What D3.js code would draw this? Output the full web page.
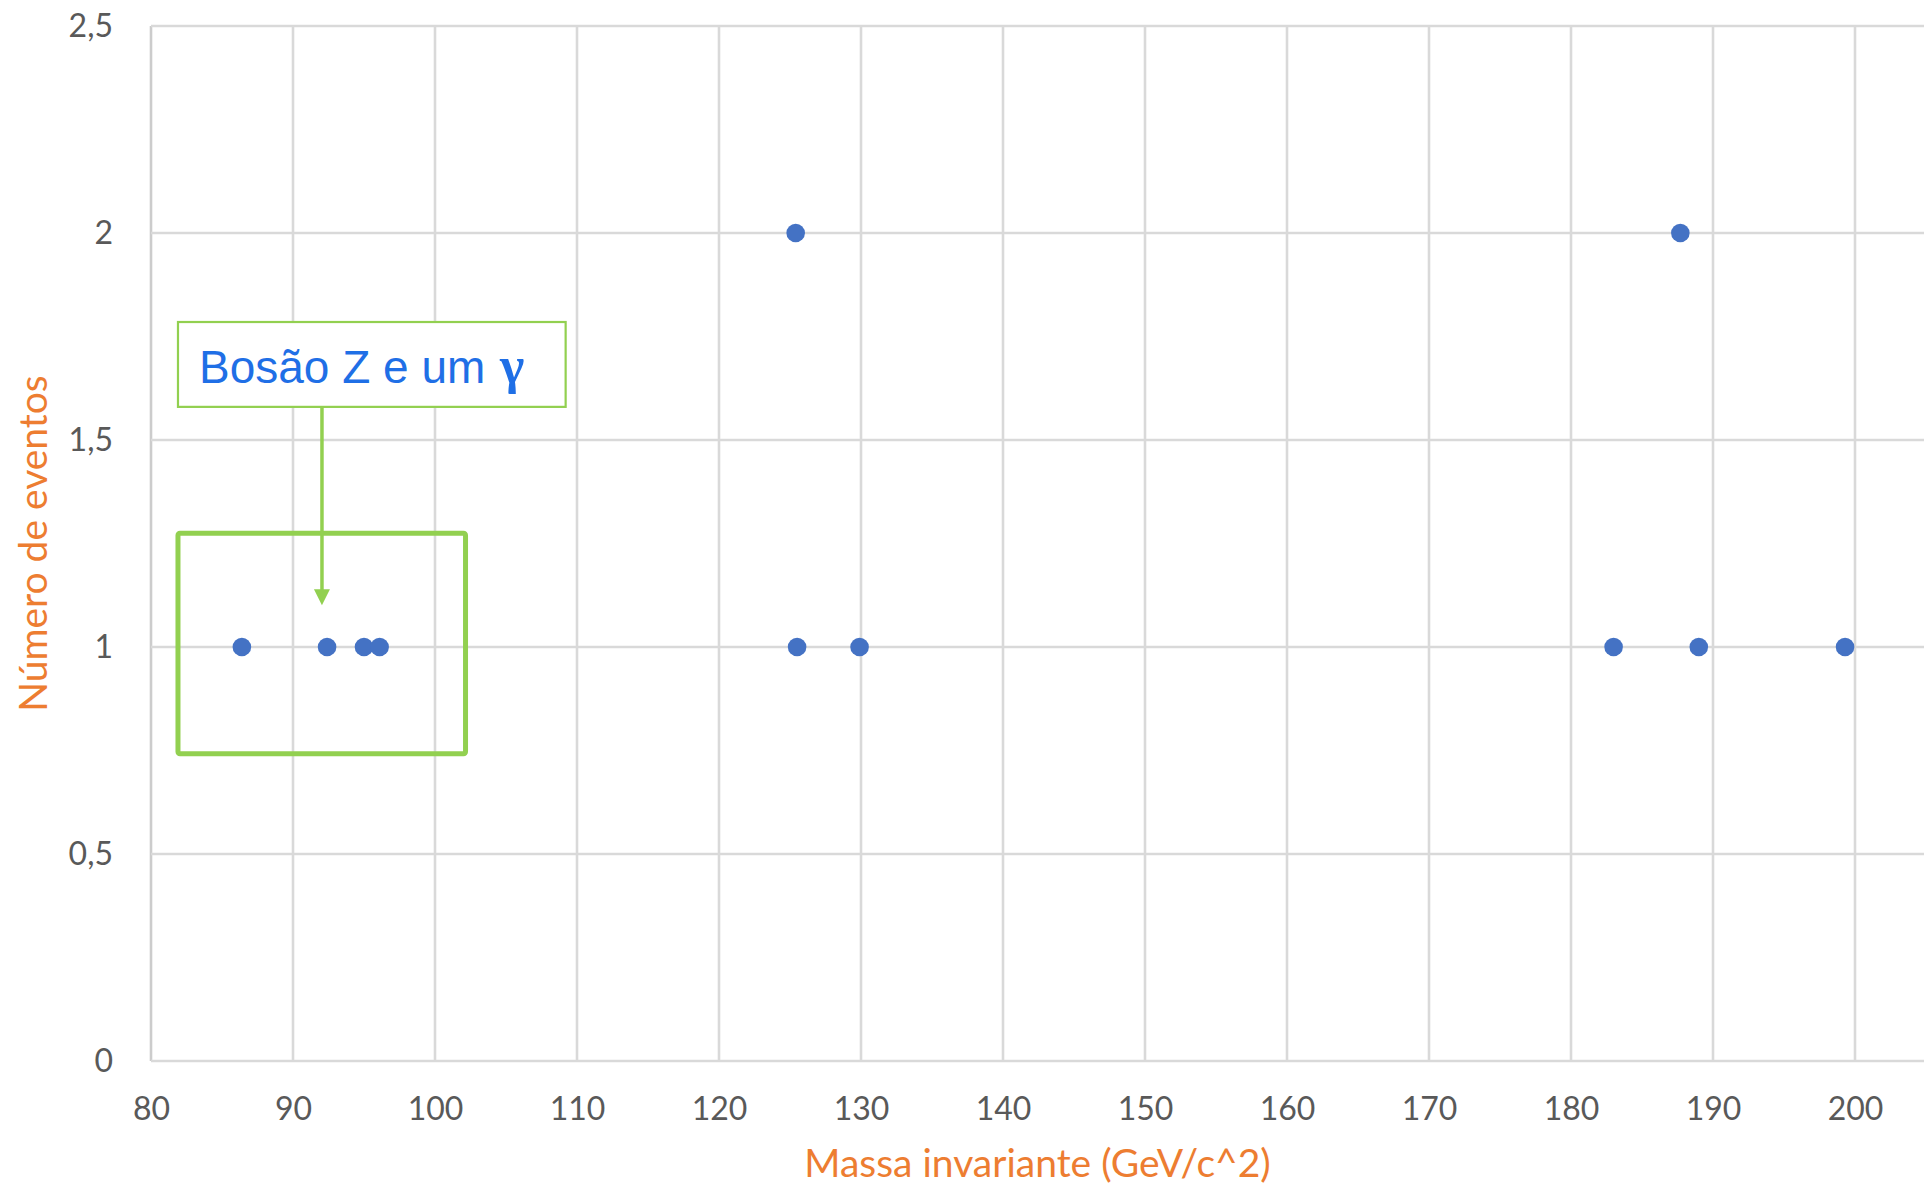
<!DOCTYPE html>
<html>
<head>
<meta charset="utf-8">
<script src="https://cdn.jsdelivr.net/npm/d3@7"></script>
<style>
	body { margin: 0; background: #fff; }
	.tick text { font-family: Lato, "Open Sans", sans-serif; font-size: 32px; fill: #595959; }
	.axis-title { font-family: Lato, "Open Sans", sans-serif; font-size: 39px; fill: #ed7d31; }
</style>
</head>
<body>
<svg id="chart" width="1924" height="1188"></svg>
<script>
"use strict";

// invariant mass (GeV/c^2) and number of events
var masses = [86.4, 92.4, 95.0, 96.1, 125.4, 125.5, 129.9, 183.0, 187.7, 189.0, 199.3];
var events = [1, 1, 1, 1, 2, 1, 1, 1, 2, 1, 1];

var xTicks = [80, 90, 100, 110, 120, 130, 140, 150, 160, 170, 180, 190, 200];
var yTicks = [0, 0.5, 1, 1.5, 2, 2.5];

var xTitle = 'Massa invariante (GeV/c^2)';
var yTitle = 'Número de eventos';
var noteText = 'Bosão Z e um ';
var noteSymbol = 'γ';

var svg = d3.select('#chart');
var width = 1924;

var x = d3.scaleLinear().domain([80, 200]).range([151, 1855]);
var y = d3.scaleLinear().domain([0, 2.5]).range([1061, 26]);

var ptBr = d3.formatLocale({decimal: ',', thousands: '.', grouping: [3], currency: ['R$', '']});
var yFormat = ptBr.format('.1~f');

//grid
var grid = svg.append('g').attr('class', 'grid');
grid.selectAll('.vline').data(xTicks).enter().append('line')
	.attr('x1', function(d) { return x(d); })
	.attr('x2', function(d) { return x(d); })
	.attr('y1', y(2.5))
	.attr('y2', y(0))
	.attr('stroke', function(d, i) { return i === 0 ? '#cccccc' : '#d9d9d9'; })
	.attr('stroke-width', 2.6);
grid.selectAll('.hline').data(yTicks).enter().append('line')
	.attr('x1', x(80))
	.attr('x2', width)
	.attr('y1', function(d) { return y(d); })
	.attr('y2', function(d) { return y(d); })
	.attr('stroke', '#d9d9d9')
	.attr('stroke-width', 2.6);

//axes, labels only
var xAxis = svg.append('g')
	.attr('transform', 'translate(0,' + y(0) + ')')
	.call(d3.axisBottom(x).tickValues(xTicks).tickSize(0).tickPadding(36));
xAxis.select('.domain').remove();

var yAxis = svg.append('g')
	.attr('transform', 'translate(' + x(80) + ',0)')
	.call(d3.axisLeft(y).tickValues(yTicks).tickSize(0).tickPadding(38).tickFormat(yFormat));
yAxis.select('.domain').remove();

svg.append('text')
	.attr('class', 'axis-title')
	.attr('x', (x(80) + width) / 2)
	.attr('y', 1177)
	.attr('text-anchor', 'middle')
	.text(xTitle);

svg.append('text')
	.attr('class', 'axis-title')
	.attr('transform', 'translate(47,' + (y(0) + y(2.5)) / 2 + ') rotate(-90)')
	.attr('text-anchor', 'middle')
	.text(yTitle);

//points
svg.append('g').selectAll('circle')
	.data(masses.map(function(m, i) { return {mass: m, count: events[i]}; }))
	.enter().append('circle')
	.attr('cx', function(d) { return x(d.mass); })
	.attr('cy', function(d) { return y(d.count); })
	.attr('r', 9.3)
	.attr('fill', '#4472c4');

//annotation: box round the Z peak, label and arrow
var green = '#92d050';
var note = svg.append('g').attr('class', 'note');

note.append('rect')
	.attr('x', x(81.9))
	.attr('y', y(1.275))
	.attr('width', x(102.15) - x(81.9))
	.attr('height', y(0.742) - y(1.275))
	.attr('rx', 2)
	.attr('fill', 'none')
	.attr('stroke', green)
	.attr('stroke-width', 5);

note.append('rect')
	.attr('x', x(81.9))
	.attr('y', y(1.785))
	.attr('width', x(109.2) - x(81.9))
	.attr('height', y(1.58) - y(1.785))
	.attr('fill', '#fff')
	.attr('stroke', green)
	.attr('stroke-width', 2.2);

var label = note.append('text')
	.attr('x', x(81.9) + 21)
	.attr('y', y(1.785) + 61)
	.attr('font-family', '"Liberation Sans", Arial, sans-serif')
	.attr('font-size', 46)
	.attr('fill', '#1f6fe6')
	.text(noteText);
label.append('tspan')
	.attr('font-family', '"Liberation Serif", "DejaVu Serif", serif')
	.attr('font-weight', 'bold')
	.attr('font-size', 52)
	.attr('dx', 2)
	.text(noteSymbol);

note.append('line')
	.attr('x1', x(92.04))
	.attr('x2', x(92.04))
	.attr('y1', y(1.58))
	.attr('y2', y(1.101) - 12)
	.attr('stroke', green)
	.attr('stroke-width', 3.5);

note.append('path')
	.attr('d', 'M' + (x(92.04) - 8) + ',' + (y(1.101) - 16) +
		'L' + (x(92.04) + 8) + ',' + (y(1.101) - 16) +
		'L' + x(92.04) + ',' + y(1.101) + 'Z')
	.attr('fill', green);
</script>
</body>
</html>
